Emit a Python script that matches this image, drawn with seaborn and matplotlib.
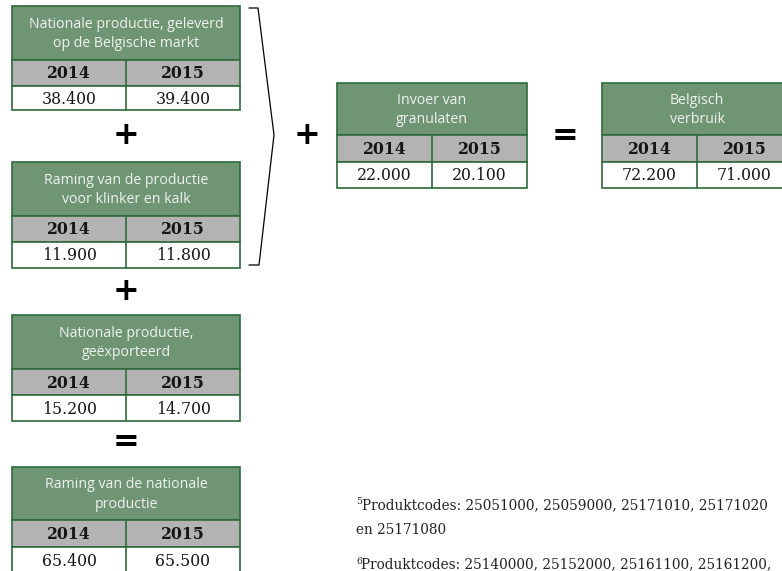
import numpy as np
import pandas as pd
import matplotlib
matplotlib.use("Agg")
import matplotlib.pyplot as plt
import seaborn as sns
from matplotlib.patches import Rectangle

# ---------------------------------------------------------------------------
# Data (tonnen)
# ---------------------------------------------------------------------------
titles = [
    "Nationale productie, geleverd\nop de Belgische markt",
    "Raming van de productie\nvoor klinker en kalk",
    "Nationale productie,\ngeëxporteerd",
    "Raming van de nationale\nproductie",
    "Invoer van\ngranulaten",
    "Belgisch\nverbruik",
]
years = ["2014", "2015"]
values_2014 = [38400, 11900, 15200, 65400, 22000, 72200]
values_2015 = [39400, 11800, 14700, 65500, 20100, 71000]
footnote_marks = ["5", "6"]
footnote_lines = [
    ["Produktcodes: 25051000, 25059000, 25171010, 25171020", "en 25171080"],
    ["Produktcodes: 25140000, 25152000, 25161100, 25161200,"],
]

df = pd.DataFrame({"title": titles, "v2014": values_2014, "v2015": values_2015})

# layout (pixels): left, top, width, header h, year row h, value row h
layout = [
    (12, 6, 228, 54, 26, 24),
    (12, 162, 228, 54, 26, 26),
    (12, 315, 228, 54, 26, 26),
    (12, 467, 228, 53, 27, 26),
    (337, 83, 190, 52, 27, 26),
    (602, 83, 190, 52, 27, 26),
]

GREEN = "#6f9574"
BORDER = "#2e6a3b"
GREY = "#b3b3b3"
HEAD_TXT = "#eef3ee"
INK = "#151515"


def fmt(v):
    return f"{v:,}".replace(",", ".")


sns.set_theme(style="white")
plt.rcParams["font.family"] = ["DejaVu Sans"]

fig = plt.figure(figsize=(7.82, 5.71), dpi=100)
ax = fig.add_axes([0, 0, 1, 1])
ax.set_xlim(0, 782)
ax.set_ylim(571, 0)
ax.axis("off")

for (x, y, w, hh, yh, vh), row in zip(layout, df.itertuples()):
    half = w / 2
    ax.add_patch(Rectangle((x, y), w, hh, facecolor=GREEN, edgecolor=BORDER, lw=1.2))
    ax.add_patch(Rectangle((x, y + hh), w, yh, facecolor=GREY, edgecolor=BORDER, lw=1.2))
    ax.add_patch(Rectangle((x, y + hh + yh), w, vh, facecolor="white", edgecolor=BORDER, lw=1.2))
    ax.plot([x + half, x + half], [y + hh, y + hh + yh + vh], color=BORDER, lw=1.2)
    ax.text(x + half, y + hh / 2 + 1, row.title, ha="center", va="center",
            fontsize=10.2, color=HEAD_TXT, family="Open Sans", linespacing=1.45)
    vals = [row.v2014, row.v2015]
    for i, yr in enumerate(years):
        cx = x + half * i + half / 2
        ax.text(cx, y + hh + yh / 2 + 1, yr, ha="center", va="center",
                fontsize=11.3, fontweight="bold", family="DejaVu Serif", color=INK)
        ax.text(cx, y + hh + yh + vh / 2 + 1, fmt(vals[i]), ha="center", va="center",
                fontsize=11.3, family="DejaVu Serif", color=INK)

# operators
for (ox, oy, s) in [(126, 136, "+"), (126, 291, "+"), (307, 136, "+"),
                    (126, 442, "="), (565, 136, "=")]:
    ax.text(ox, oy, s, ha="center", va="center", fontsize=23,
            fontweight="bold", color="black")

# bracket
ax.plot([249, 258, 274, 259, 249], [8, 8, 135, 265, 265], color="black", lw=0.9)

# footnotes
note_tops = [505, 564]
for mark, lines, ty in zip(footnote_marks, footnote_lines, note_tops):
    ax.text(356, ty - 3, mark, fontsize=6.5, family="DejaVu Serif", va="center", color="#222222")
    x0 = 362 if mark == "5" else 361
    for j, line in enumerate(lines):
        ax.text(x0 if j == 0 else 356, ty + 25 * j, line, fontsize=9.8,
                family="DejaVu Serif", va="center", color="#222222")

fig.savefig("out.png", dpi=100)
